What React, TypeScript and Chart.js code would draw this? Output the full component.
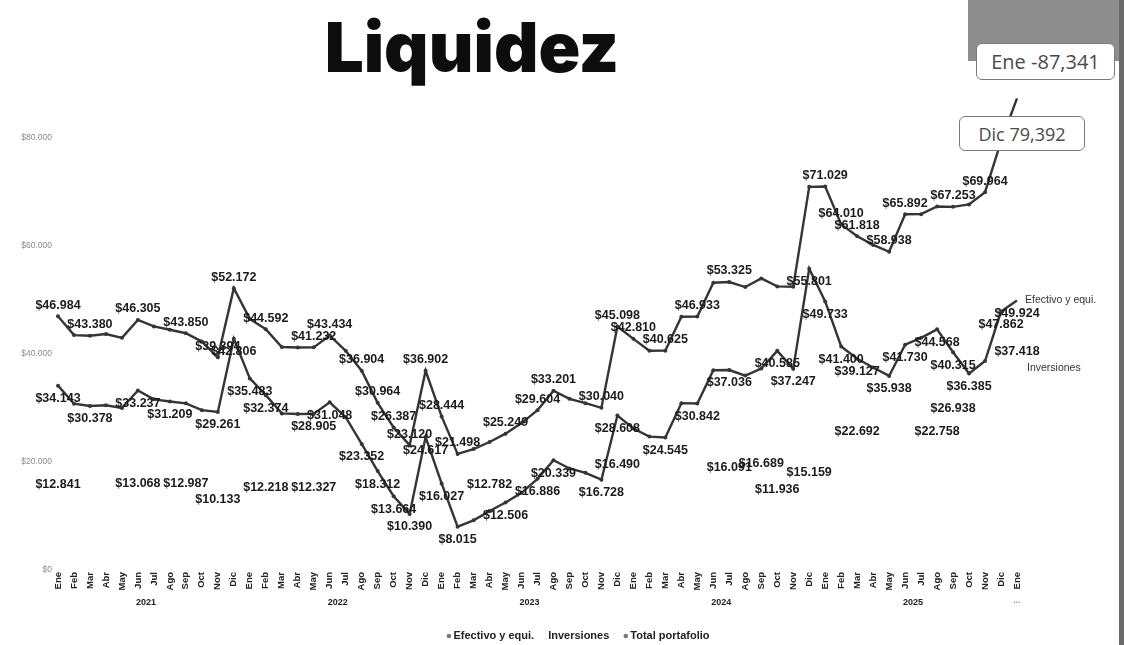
import React, { useEffect, useRef } from "react";
import { Chart, registerables } from "chart.js";

Chart.register(...registerables);

// ---------- data ----------
const monthNames = ["Ene", "Feb", "Mar", "Abr", "May", "Jun", "Jul", "Ago", "Sep", "Oct", "Nov", "Dic"];
const yearNames = ["2021", "2022", "2023", "2024", "2025"];
const trailingMonth = "Ene";
const trailingYearName = "...";

const categories: string[] = [...yearNames.flatMap(() => monthNames), trailingMonth];

const seriesNames = ["Efectivo y equi.", "Inversiones", "Total portafolio"];

const efectivo = [
  34143, 30800, 30378, 30500, 30000, 33237, 31600, 31209, 30863, 29600, 29261, 42806,
  35483, 32374, 29000, 28900, 28905, 31048, 28300, 23352, 18312, 13664, 10390, 24617,
  16027, 8015, 9200, 10918, 12506, 14300, 16886, 20339, 18800, 18000, 16728, 28608,
  26200, 24700, 24545, 30900, 30842, 37000, 37036, 36000, 37311, 40585, 37247, 55801,
  49733, 41400, 39127, 37500, 35938, 41730, 43000, 44568, 40315, 36385, 38700, 47862,
  49924,
];

const inversiones = [
  12841, 12700, 13002, 13200, 13000, 13068, 13500, 13291, 12987, 12700, 10133, 9366,
  11017, 12218, 12300, 12300, 12327, 12386, 12300, 13552, 12652, 12723, 12730, 12285,
  12417, 13483, 13200, 12782, 12743, 12900, 12718, 12862, 12900, 12900, 13312, 16490,
  16610, 15900, 16080, 16000, 16091, 16200, 16091, 16400, 16689, 11936, 15200, 15159,
  21296, 22610, 22692, 22700, 23000, 24162, 22900, 22758, 26938, 31315, 31264, 31530,
  37418,
];

const totalPortafolio = [
  46984, 43500, 43380, 43700, 43000, 46305, 45100, 44500, 43850, 42300, 39394, 52172,
  46500, 44592, 41300, 41200, 41232, 43434, 40600, 36904, 30964, 26387, 23120, 36902,
  28444, 21498, 22400, 23700, 25249, 27200, 29604, 33201, 31700, 30900, 30040, 45098,
  42810, 40600, 40625, 46900, 46933, 53200, 53325, 52400, 54000, 52521, 52447, 70960,
  71029, 64010, 61818, 60200, 58938, 65892, 65900, 67326, 67253, 67700, 69964, 79392,
  87341,
];

// which points carry a value label
const efectivoLabeled = [0, 2, 5, 7, 10, 11, 12, 13, 16, 17, 19, 20, 21, 22, 23, 24, 25, 28, 30, 31, 34, 35, 38, 40, 42, 45, 46, 47, 48, 49, 50, 52, 53, 55, 56, 57, 59, 60];
const inversionesLabeled = [0, 5, 8, 10, 13, 16, 27, 35, 42, 44, 45, 47, 50, 55, 56, 60];
const totalLabeled = [0, 2, 5, 8, 10, 11, 13, 16, 17, 19, 20, 21, 22, 23, 24, 25, 28, 30, 31, 34, 35, 36, 38, 40, 42, 48, 49, 50, 52, 53, 56, 58];

const yTickValues = [0, 20000, 40000, 60000, 80000];
const yMax = 100000;

const titleText = "Liquidez";
const calloutDic = "Dic 79,392";
const calloutEne = "Ene -87,341";

// ---------- helpers ----------
const FONT = "'Liberation Sans', Arial, sans-serif";
const LINE = "#353535";

function money(v: number): string {
  if (v === 0) return "$0";
  const th = Math.floor(v / 1000);
  const rest = String(Math.round(v % 1000)).padStart(3, "0");
  return "$" + th + "." + rest;
}

const overlayPlugin = {
  id: "overlay",
  afterDatasetsDraw(chart: any) {
    const ctx = chart.ctx;
    ctx.save();
    ctx.font = `bold 12.5px ${FONT}`;
    ctx.fillStyle = "#1b1b1b";
    ctx.textAlign = "center";
    ctx.textBaseline = "middle";
    const specs: [number, number[], number][] = [
      [0, efectivoLabeled, 13],
      [1, inversionesLabeled, -16],
      [2, totalLabeled, -11],
    ];
    for (const [di, idxs, dy] of specs) {
      const meta = chart.getDatasetMeta(di);
      const data = chart.data.datasets[di].data as number[];
      for (const i of idxs) {
        const el = meta.data[i];
        if (!el) continue;
        ctx.fillText(money(data[i]), el.x, el.y + dy);
      }
    }
    // series names at end of lines
    ctx.font = `10.5px ${FONT}`;
    ctx.textAlign = "left";
    ctx.fillStyle = "#333";
    const lastE = chart.getDatasetMeta(0).data[categories.length - 1];
    const lastI = chart.getDatasetMeta(1).data[categories.length - 1];
    ctx.fillText(seriesNames[0], lastE.x + 8, lastE.y);
    ctx.fillText(seriesNames[1], lastI.x + 10, lastI.y);
    ctx.restore();
  },
  afterDraw(chart: any) {
    const ctx = chart.ctx;
    const xs = chart.scales.x;
    ctx.save();
    ctx.font = `bold 9px ${FONT}`;
    ctx.fillStyle = "#222";
    ctx.textAlign = "center";
    ctx.textBaseline = "middle";
    yearNames.forEach((y, k) => {
      const x0 = xs.getPixelForValue(k * 12);
      const x1 = xs.getPixelForValue(k * 12 + 11);
      ctx.fillText(y, (x0 + x1) / 2, 603);
    });
    ctx.fillStyle = "#999";
    ctx.fillText(trailingYearName, xs.getPixelForValue(categories.length - 1), 601);

    // legend
    ctx.font = `bold 11px ${FONT}`;
    ctx.fillStyle = "#222";
    ctx.textAlign = "left";
    const gap = 14;
    const dotW = 7;
    const items = [
      { text: seriesNames[0], dot: true },
      { text: seriesNames[1], dot: false },
      { text: seriesNames[2], dot: true },
    ];
    let total = 0;
    items.forEach((it, i) => {
      total += (it.dot ? dotW : 0) + ctx.measureText(it.text).width + (i < items.length - 1 ? gap : 0);
    });
    let x = 578 - total / 2;
    const y = 636;
    items.forEach((it) => {
      if (it.dot) {
        ctx.fillStyle = "#777";
        ctx.beginPath();
        ctx.arc(x + 2.5, y, 2.3, 0, Math.PI * 2);
        ctx.fill();
        x += dotW;
      }
      ctx.fillStyle = "#222";
      ctx.fillText(it.text, x, y);
      x += ctx.measureText(it.text).width + gap;
    });
    ctx.restore();
  },
};

export default function App() {
  const canvasRef = useRef<HTMLCanvasElement | null>(null);

  useEffect(() => {
    const canvas = canvasRef.current;
    if (!canvas) return;
    const last = categories.length - 1;
    const lineDs = (label: string, data: number[]) => ({
      label,
      data,
      borderColor: LINE,
      backgroundColor: LINE,
      borderWidth: 2.4,
      pointRadius: (c: any) => (c.dataIndex === last ? 0 : 2),
      pointBorderWidth: 0,
      pointBackgroundColor: LINE,
      tension: 0,
    });
    const chart = new Chart(canvas, {
      type: "line",
      data: {
        labels: categories,
        datasets: [
          lineDs(seriesNames[0], efectivo),
          {
            label: seriesNames[1],
            data: inversiones,
            borderColor: "rgba(0,0,0,0)",
            backgroundColor: "rgba(0,0,0,0)",
            borderWidth: 0,
            pointRadius: 0,
          },
          lineDs(seriesNames[2], totalPortafolio),
        ],
      },
      options: {
        responsive: false,
        animation: false,
        layout: { padding: { left: 0, right: 107, top: 30, bottom: 35 } },
        plugins: {
          legend: { display: false },
          tooltip: { enabled: false },
          title: { display: false },
        },
        scales: {
          x: {
            offset: false,
            grid: { display: false, drawTicks: false, tickLength: 0 },
            border: { display: false },
            ticks: {
              autoSkip: false,
              minRotation: 90,
              maxRotation: 90,
              padding: 2,
              color: "#222",
              font: { family: FONT, size: 9.5, weight: "bold" },
            },
            afterFit: (s: any) => {
              s.height = 40;
            },
          },
          y: {
            min: 0,
            max: yMax,
            afterBuildTicks: (s: any) => {
              s.ticks = yTickValues.map((v) => ({ value: v }));
            },
            grid: { display: false, drawTicks: false, tickLength: 0 },
            border: { display: false },
            ticks: {
              color: "#8a8a8a",
              padding: 6,
              font: { family: FONT, size: 8.5 },
              callback: (v: any) => money(Number(v)),
            },
            afterFit: (s: any) => {
              s.width = 58;
            },
          },
        },
      } as any,
      plugins: [overlayPlugin],
    });
    return () => chart.destroy();
  }, []);

  const boxStyle: React.CSSProperties = {
    position: "absolute",
    background: "#fff",
    border: "1.5px solid #7a7a7a",
    borderRadius: 6,
    boxSizing: "border-box",
    display: "flex",
    alignItems: "center",
    justifyContent: "center",
    fontFamily: "'Open Sans', sans-serif",
    color: "#4a4a4a",
  };

  return (
    <div style={{ position: "absolute", left: 0, top: 0, width: 1124, height: 645, background: "#fff", overflow: "hidden" }}>
      <canvas ref={canvasRef} width={1124} height={645} style={{ position: "absolute", left: 0, top: 0, width: 1124, height: 645 }} />
      <div
        style={{
          position: "absolute",
          left: 0,
          top: 13,
          width: 944,
          textAlign: "center",
          fontFamily: "Inter, 'Open Sans', sans-serif",
          fontWeight: 900,
          fontSize: 69,
          lineHeight: "1",
          color: "#0d0d0d",
        }}
      >
        {titleText}
      </div>
      <div style={{ position: "absolute", left: 968, top: 0, width: 156, height: 61, background: "#8e8e8e" }} />
      <div style={{ position: "absolute", left: 1119, top: 0, width: 5, height: 645, background: "#6a6a6a" }} />
      <div style={{ ...boxStyle, left: 976, top: 43, width: 139, height: 37, fontSize: 20 }}>{calloutEne}</div>
      <div style={{ ...boxStyle, left: 959, top: 116, width: 126, height: 35, fontSize: 18 }}>{calloutDic}</div>
    </div>
  );
}
